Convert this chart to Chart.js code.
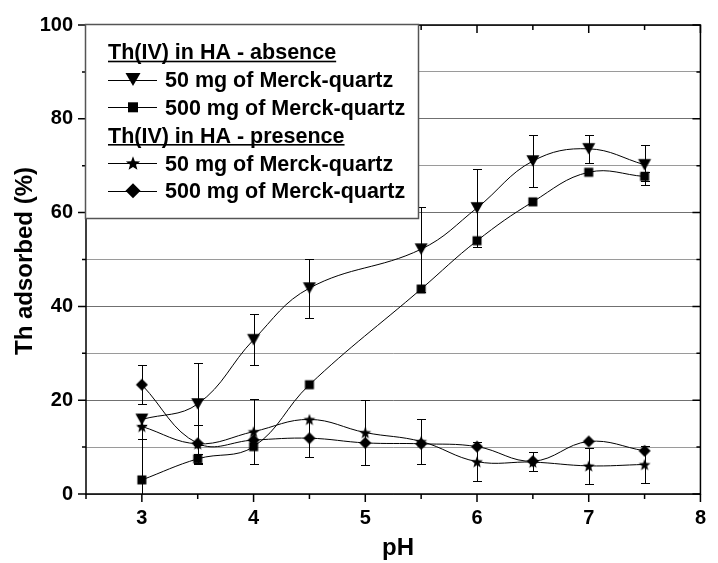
<!DOCTYPE html>
<html>
<head>
<meta charset="utf-8">
<script src="https://cdn.jsdelivr.net/npm/chart.js@4.4.1/dist/chart.umd.min.js"></script>
<style>
  html, body { margin: 0; padding: 0; background: #fff; }
  canvas { display: block; }
</style>
</head>
<body>
<canvas id="chart" width="718" height="563"></canvas>
<script>
// pH steps for the two groups of samples
const phAbsence = [3, 3.5, 4, 4.5, 5.5, 6, 6.5, 7, 7.5];
const phPresence = [3, 3.5, 4, 4.5, 5, 5.5, 6, 6.5, 7, 7.5];

// Th adsorbed (%) and standard deviations
const abs50 = [15.9, 19.2, 32.9, 43.9, 52.2, 61.0, 71.0, 73.6, 70.2];
const abs50Err = [1.2, 8.7, 5.5, 6.3, 9.1, 8.3, 5.6, 3.0, 4.3];
const abs500 = [3.0, 7.5, 10.1, 23.3, 43.7, 54.0, 62.3, 68.6, 67.7];
const abs500Err = [8.7, 1.1, 0, 0, 0, 0, 0, 0, 1.0];
const pre50 = [14.4, 10.7, 13.3, 15.9, 13.1, 11.2, 6.9, 6.8, 6.0, 6.3];
const pre50Err = [2.7, 4.1, 6.9, 0, 6.9, 4.7, 4.1, 0, 3.9, 4.0];
const pre500 = [23.3, 10.8, 11.5, 11.9, 10.9, 10.7, 10.1, 7.0, 11.2, 9.2];
const pre500Err = [4.2, 0, 0, 4.1, 0, 0, 0, 2.0, 0, 0];

const seriesNames = ['50 mg of Merck-quartz', '500 mg of Merck-quartz', '50 mg of Merck-quartz', '500 mg of Merck-quartz'];
const groupNames = ['Th(IV) in HA - absence', 'Th(IV) in HA - presence'];
const xTitle = 'pH';
const yTitle = 'Th adsorbed (%)';

const FONT = "'Liberation Sans', Arial, sans-serif";

// --- marker shapes ---
function traceShape(g, shape, r) {
    g.beginPath();
    if (shape === 'triDown') {
        const h = r * Math.sqrt(3);
        g.moveTo(-r, -h / 2); g.lineTo(r, -h / 2); g.lineTo(0, h / 2);
    } else if (shape === 'square') {
        g.rect(-r, -r, 2 * r, 2 * r);
    } else if (shape === 'diamond') {
        g.moveTo(0, -r); g.lineTo(r, 0); g.lineTo(0, r); g.lineTo(-r, 0);
    } else if (shape === 'star') {
        for (let k = 0; k < 10; k++) {
            const rr = k % 2 ? r * 0.42 : r;
            const a = -Math.PI / 2 + k * Math.PI / 5;
            g.lineTo(Math.cos(a) * rr, Math.sin(a) * rr + r * 0.1);
        }
    }
    g.closePath();
}

function makeMarker(shape, r) {
    const size = 2 * Math.ceil(r) + 2;
    const c = document.createElement('canvas');
    c.width = c.height = size;
    const g = c.getContext('2d');
    g.translate(size / 2, size / 2);
    traceShape(g, shape, r);
    g.fillStyle = '#000';
    g.fill();
    return c;
}

const shapes = ['triDown', 'square', 'star', 'diamond'];
const plotSizes = { triDown: 6.5, square: 4.5, star: 6.2, diamond: 6 };
const legendSizes = { triDown: 7.5, square: 5, star: 7.5, diamond: 7.5 };

function toPoints(xs, ys) { return xs.map((x, i) => ({ x: x, y: ys[i] })); }

function makeSet(xs, ys, errs, shape) {
    return {
        data: toPoints(xs, ys),
        errors: errs,
        showLine: true,
        borderColor: '#000',
        borderWidth: 1,
        tension: 0.4,
        pointStyle: makeMarker(shape, plotSizes[shape]),
        pointRadius: 6,
        pointHoverRadius: 6
    };
}

// --- error bars, drawn under the curves ---
const errorBars = {
    id: 'errorBars',
    beforeDatasetsDraw(chart) {
        const { ctx, chartArea, scales } = chart;
        ctx.save();
        ctx.beginPath();
        ctx.rect(chartArea.left, chartArea.top, chartArea.right - chartArea.left, chartArea.bottom - chartArea.top);
        ctx.clip();
        ctx.strokeStyle = '#000';
        ctx.lineWidth = 1;
        chart.data.datasets.forEach((ds, i) => {
            chart.getDatasetMeta(i).data.forEach((pt, j) => {
                const e = ds.errors[j];
                if (!e) return;
                const v = ds.data[j].y;
                const x = Math.round(pt.x) + 0.5;
                const yTop = Math.round(scales.y.getPixelForValue(v + e)) + 0.5;
                const yBot = Math.round(scales.y.getPixelForValue(v - e)) + 0.5;
                ctx.beginPath();
                ctx.moveTo(x, yTop); ctx.lineTo(x, yBot);
                ctx.moveTo(x - 4.5, yTop); ctx.lineTo(x + 4.5, yTop);
                ctx.moveTo(x - 4.5, yBot); ctx.lineTo(x + 4.5, yBot);
                ctx.stroke();
            });
        });
        ctx.restore();
    }
};

// --- frame, tick marks, axis titles and the boxed legend ---
const frameAndLegend = {
    id: 'frameAndLegend',
    afterDraw(chart) {
        const { ctx, chartArea: a, scales } = chart;
        ctx.save();
        ctx.strokeStyle = '#000';
        ctx.lineWidth = 1.5;
        ctx.strokeRect(a.left, a.top, a.right - a.left, a.bottom - a.top);

        ctx.lineWidth = 1.5;
        ctx.beginPath();
        for (let v = 0; v <= 100; v += 10) {
            const y = scales.y.getPixelForValue(v);
            const len = v % 20 === 0 ? 8 : 4;
            ctx.moveTo(a.left - len, y); ctx.lineTo(a.left, y);
            ctx.moveTo(a.right, y); ctx.lineTo(a.right - len, y);
        }
        for (let v = 2.5; v <= 8; v += 0.5) {
            const x = scales.x.getPixelForValue(v);
            const len = Number.isInteger(v) ? 8 : 5;
            ctx.moveTo(x, a.bottom); ctx.lineTo(x, a.bottom + len);
            ctx.moveTo(x, a.top); ctx.lineTo(x, a.top + len);
        }
        ctx.stroke();

        // axis titles
        ctx.fillStyle = '#000';
        ctx.font = 'bold 24px ' + FONT;
        ctx.textAlign = 'center';
        ctx.textBaseline = 'middle';
        ctx.fillText(xTitle, 398, 548);
        ctx.save();
        ctx.translate(25, 261);
        ctx.rotate(-Math.PI / 2);
        ctx.fillText(yTitle, 0, 0);
        ctx.restore();

        // legend box
        const bx = 85.5, by = 24.5, bw = 333, bh = 194;
        ctx.fillStyle = '#fff';
        ctx.fillRect(bx, by, bw, bh);
        ctx.strokeStyle = '#555';
        ctx.lineWidth = 1.5;
        ctx.strokeRect(bx, by, bw, bh);

        ctx.font = 'bold 21.5px ' + FONT;
        ctx.textAlign = 'left';
        ctx.textBaseline = 'alphabetic';
        ctx.fillStyle = '#000';
        const rowY = [51.7, 79.5, 107.3, 135, 163, 190.7];
        const rows = [
            { head: groupNames[0] },
            { name: seriesNames[0], shape: shapes[0] },
            { name: seriesNames[1], shape: shapes[1] },
            { head: groupNames[1] },
            { name: seriesNames[2], shape: shapes[2] },
            { name: seriesNames[3], shape: shapes[3] }
        ];
        rows.forEach((r, i) => {
            const cy = rowY[i];
            const base = cy + 7.5;
            if (r.head) {
                ctx.fillText(r.head, 108, base);
                const w = ctx.measureText(r.head).width;
                ctx.fillRect(108, base + 1.5, w, 1.6);
            } else {
                ctx.strokeStyle = '#000';
                ctx.lineWidth = 1;
                ctx.beginPath();
                ctx.moveTo(108, Math.round(cy) + 0.5); ctx.lineTo(157, Math.round(cy) + 0.5);
                ctx.stroke();
                ctx.save();
                ctx.translate(133, cy);
                traceShape(ctx, r.shape, legendSizes[r.shape]);
                ctx.fill();
                ctx.restore();
                ctx.fillText(r.name, 165, base);
            }
        });
        ctx.restore();
    }
};

new Chart(document.getElementById('chart'), {
    type: 'scatter',
    data: {
        datasets: [
            makeSet(phAbsence, abs50, abs50Err, shapes[0]),
            makeSet(phAbsence, abs500, abs500Err, shapes[1]),
            makeSet(phPresence, pre50, pre50Err, shapes[2]),
            makeSet(phPresence, pre500, pre500Err, shapes[3])
        ]
    },
    options: {
        responsive: false,
        animation: false,
        layout: { padding: { top: 25, right: 6, left: 0, bottom: 0 } },
        plugins: { legend: { display: false }, tooltip: { enabled: false } },
        scales: {
            x: {
                type: 'linear', min: 2.5, max: 8,
                border: { display: false },
                grid: { display: false, drawTicks: false },
                ticks: {
                    stepSize: 0.5, autoSkip: false, maxRotation: 0, padding: 12,
                    color: '#000', font: { family: FONT, size: 20, weight: 'bold' },
                    callback: v => Number.isInteger(v) ? v : ''
                },
                afterFit: s => { s.height = 69; }
            },
            y: {
                min: 0, max: 100,
                border: { display: false },
                grid: {
                    drawTicks: false,
                    color: c => c.tick.value % 20 === 0 ? '#707070' : '#9a9a9a',
                    lineWidth: 1
                },
                ticks: {
                    stepSize: 10, autoSkip: false, padding: 13,
                    color: '#000', font: { family: FONT, size: 20, weight: 'bold' },
                    callback: v => v % 20 === 0 ? v : ''
                },
                afterFit: s => { s.width = 86; }
            }
        }
    },
    plugins: [errorBars, frameAndLegend]
});
</script>
</body>
</html>
